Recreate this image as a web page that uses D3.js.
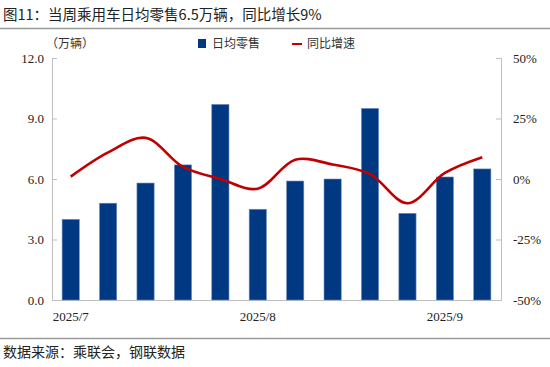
<!DOCTYPE html>
<html><head><meta charset="utf-8">
<script src="https://cdn.jsdelivr.net/npm/d3@7/dist/d3.min.js"></script>
<style>
body{margin:0;background:#fff;}
svg{display:block;}
</style></head>
<body>
<script>
const weeks = ["W1","W2","W3","W4","W5","W6","W7","W8","W9","W10","W11","W12"];
const xLabels = {0:"2025/7",5:"2025/8",10:"2025/9"};
const retail = [4.0,4.8,5.8,6.7,9.7,4.5,5.9,6.0,9.5,4.3,6.1,6.5];
const yoy = [1,11,17,5,0,-4,8,6,2,-10,2.5,9];
const leftTicks = [0,3,6,9,12];
const rightTicks = [-50,-25,0,25,50];

const W=550,H=367;
const svg=d3.select("body").append("svg").attr("width",W).attr("height",H);
const cjk='"Noto Sans CJK SC", sans-serif';
const serif='"Liberation Serif", "Times New Roman", serif';

svg.append("text").attr("x",3).attr("y",20).attr("font-family",cjk).attr("font-size",14.5).attr("fill","#222")
  .text("图11：当周乘用车日均零售6.5万辆，同比增长9%");
svg.append("line").attr("x1",0).attr("x2",550).attr("y1",28.5).attr("y2",28.5).attr("stroke","#9a9a9a").attr("stroke-width",1.5);
svg.append("line").attr("x1",0).attr("x2",550).attr("y1",338.5).attr("y2",338.5).attr("stroke","#9a9a9a").attr("stroke-width",1.5);
svg.append("text").attr("x",3).attr("y",357).attr("font-family",cjk).attr("font-size",14).attr("fill","#222")
  .text("数据来源：乘联会，钢联数据");

const L=52,R=501,T=58,B=300;
const x=d3.scaleBand().domain(weeks).range([L,R]).paddingInner(0.54).paddingOuter(0.27);
const yL=d3.scaleLinear().domain([0,12]).range([B,T]);
const yR=d3.scaleLinear().domain([-50,50]).range([B,T]);

// axes
const gl=svg.append("g").attr("transform",`translate(${L},0)`)
  .call(d3.axisLeft(yL).tickValues(leftTicks).tickSize(-5).tickPadding(8).tickFormat(d3.format(".1f")));
const gr=svg.append("g").attr("transform",`translate(${R},0)`)
  .call(d3.axisRight(yR).tickValues(rightTicks).tickSize(-5).tickPadding(8).tickFormat(d=>d+"%"));
[gl,gr].forEach(g=>{
  g.select(".domain").attr("stroke","#bfbfbf");
  g.selectAll(".tick line").attr("stroke","#bfbfbf");
  g.selectAll("text").attr("font-family",serif).attr("font-size",13).attr("fill","#222");
});
gr.selectAll("text").attr("dx",4);
// bottom axis
const gb=svg.append("g").attr("transform",`translate(0,${B})`)
  .call(d3.axisBottom(x).tickSize(0).tickPadding(12).tickFormat((d,i)=>xLabels[i]||""));
gb.select(".domain").attr("stroke","#bfbfbf");
gb.selectAll("text").attr("font-family",serif).attr("font-size",13).attr("fill","#222");

// bars
svg.append("g").selectAll("rect").data(retail).join("rect")
  .attr("x",(d,i)=>x(weeks[i])).attr("width",x.bandwidth())
  .attr("y",d=>yL(d)).attr("height",d=>B-yL(d))
  .attr("fill","#003882").attr("stroke","#6f8fc0").attr("stroke-width",0.6);

// line
const line=d3.line().x((d,i)=>x(weeks[i])+x.bandwidth()/2).y(d=>yR(d)).curve(d3.curveCatmullRom.alpha(0.5));
svg.append("path").datum(yoy).attr("d",line).attr("fill","none").attr("stroke","#c00000").attr("stroke-width",2.6);

// unit
svg.append("text").attr("x",46).attr("y",48).attr("font-family",cjk).attr("font-size",12).attr("fill","#333").text("（万辆）");

// legend
svg.append("rect").attr("x",198).attr("y",39).attr("width",8).attr("height",9).attr("fill","#003882");
svg.append("text").attr("x",212).attr("y",48).attr("font-family",cjk).attr("font-size",12).attr("fill","#333").text("日均零售");
svg.append("line").attr("x1",292).attr("x2",302).attr("y1",44).attr("y2",44).attr("stroke","#c00000").attr("stroke-width",2);
svg.append("text").attr("x",307).attr("y",48).attr("font-family",cjk).attr("font-size",12).attr("fill","#333").text("同比增速");
</script>
</body></html>
